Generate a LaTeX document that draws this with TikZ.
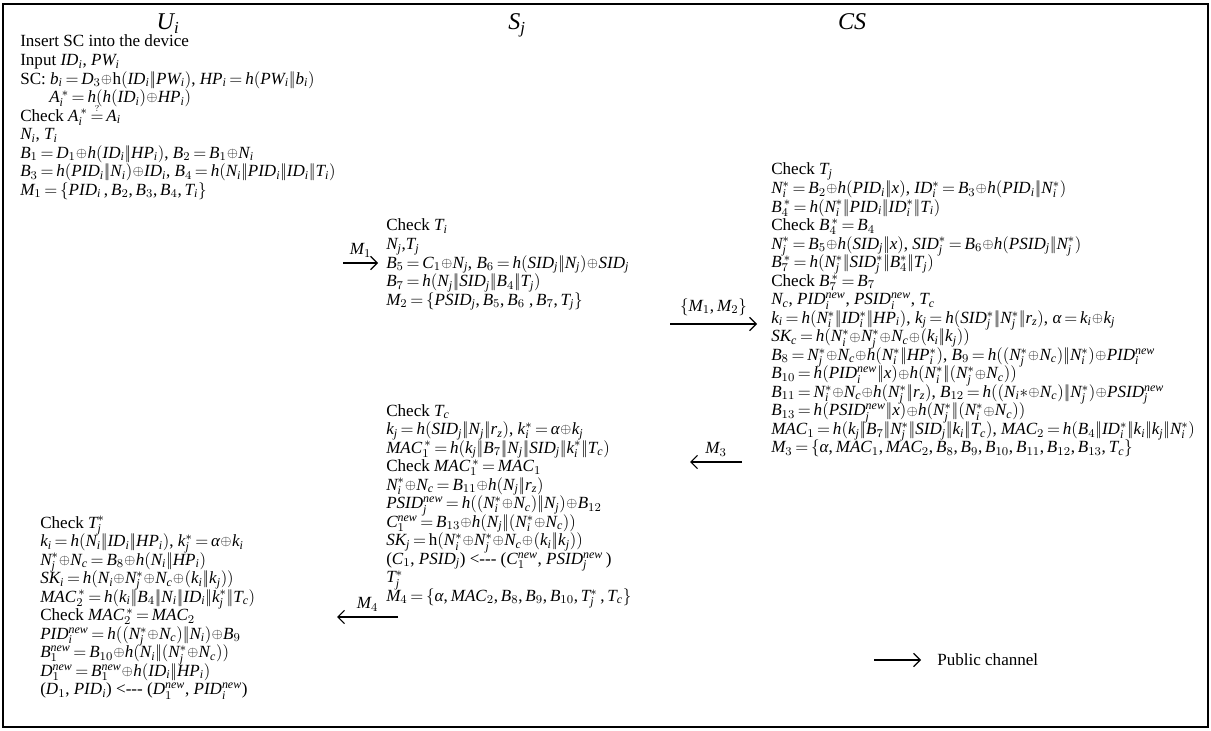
\documentclass[tikz,border=0pt]{standalone}
\usepackage{fix-cm}
\usepackage{amsmath}
\usepackage{graphicx}
\usepackage{fontspec}
\setmainfont{Liberation Serif}
\usetikzlibrary{arrows.meta}
\DeclareSymbolFont{tletters}{TU}{\rmdefault}{m}{it}
\DeclareSymbolFont{tupright}{TU}{\rmdefault}{m}{n}
\newcount\mycnt
\mycnt=`a
\loop\Umathcode\mycnt="7 \symtletters\mycnt\relax\ifnum\mycnt<`z \advance\mycnt by 1 \repeat
\mycnt=`A
\loop\Umathcode\mycnt="7 \symtletters\mycnt\relax\ifnum\mycnt<`Z \advance\mycnt by 1 \repeat
\mycnt=`0
\loop\Umathcode\mycnt="0 \symtupright\mycnt\relax\ifnum\mycnt<`9 \advance\mycnt by 1 \repeat
\Umathcode`\( = "4 \symtupright `\(\relax
\Umathcode`\) = "5 \symtupright `\)\relax
\Umathcode`\= = "3 \symtupright `\=\relax
\Umathcode`\, = "6 \symtupright `\,\relax
\Umathchardef\alpha="7 \symtletters "3B1\relax
\let\oldoplus\oplus
\renewcommand\oplus{\mathbin{\vcenter{\hbox{\scalebox{0.82}{$\oldoplus$}}}}}
\renewcommand\|{\mathord{\vert\mkern-3mu\vert}}
\newcommand\qeq{\mathrel{\overset{\scriptscriptstyle ?}{=}}}
\thickmuskip=3mu plus 2mu
\medmuskip=0.5mu plus 1mu
\newcommand\blk[1]{\vtop{\baselineskip=13.9pt\lineskiplimit=-100pt\lineskip=0pt\let\\\cr\halign{##\hfil\cr#1\crcr}}}
\begin{document}
\begin{tikzpicture}[x=0.75pt,y=-0.75pt,
  txt/.style={anchor=base west, inner sep=0pt, font=\fontsize{12.8}{13.9}\selectfont},
  head/.style={anchor=base, inner sep=0pt, font=\fontsize{18}{21}\selectfont},
  msg/.style={line width=0.9pt, -{Straight Barb[length=5pt,width=10pt,line width=0.9pt]}},
  lbl/.style={inner sep=0pt, font=\fontsize{12.8}{13.9}\selectfont}]
\useasboundingbox (0,0) rectangle (1211,731);
\draw[line width=1.5pt] (3,4) rectangle (1208,727);

\node[head] (hu) at (168,30) {$U_i$};
\node[head] (hs) at (517,30) {$S_j$};
\node[head] (hc) at (852,30) {$CS$};

\node[txt] (u1) at (20,47) {\blk{%
Insert SC into the device\\
Input $ID_i$, $PW_i$\\
SC: $b_i = D_3\oplus \text{h}(ID_i\|PW_i)$, $HP_i = h(PW_i\|b_i)$\\
\hspace*{1.7em}$A_i^{\,*} = h(h(ID_i)\oplus HP_i)$\\
Check $A_i^{\,*} \qeq A_i$\\
$N_i$, $T_i$\\
$B_1 = D_1\oplus h(ID_i\|HP_i)$, $B_2 = B_1\oplus N_i$\\
$B_3 = h(PID_i\|N_i)\oplus ID_i$, $B_4 = h(N_i\|PID_i\|ID_i\|T_i)$\\
$M_1 = \{PID_i\,, B_2, B_3, B_4, T_i\}$}};

\node[txt] (s1) at (386,231) {\blk{%
Check $T_i$\\
$N_j$,$T_j$\\
$B_5 = C_1\oplus N_j$, $B_6 = h(SID_j\|N_j)\oplus SID_j$\\
$B_7 = h(N_j\|SID_j\|B_4\|T_j)$\\
$M_2 = \{PSID_j, B_5, B_6\ , B_7, T_j\}$}};

\node[txt] (c1) at (771,175) {\blk{%
Check $T_j$\\
$N_i^* = B_2\oplus h(PID_i\|x)$, $ID_i^* = B_3\oplus h(PID_i\|N_i^*)$\\
$B_4^{\,*} = h(N_i^*\|PID_i\|ID_i^*\|T_i)$\\
Check $B_4^{\,*} = B_4$\\
$N_j^* = B_5\oplus h(SID_j\|x)$, $SID_j^* = B_6\oplus h(PSID_j\|N_j^*)$\\
$B_7^{\,*} = h(N_j^*\|SID_j^*\|B_4^*\|T_j)$\\
Check $B_7^{\,*} = B_7$\\
$N_c$, $PID_i^{new}$, $PSID_i^{new}$, $T_c$\\
$k_i = h(N_i^*\|ID_i^*\|HP_i)$, $k_j = h(SID_j^*\|N_j^*\|r_z)$, $\alpha = k_i\oplus k_j$\\
$SK_c = h(N_i^*\oplus N_j^*\oplus N_c\oplus (k_i\|k_j))$\\
$B_8 = N_j^*\oplus N_c\oplus h(N_i^*\|HP_i^*)$, $B_9 = h((N_j^*\oplus N_c)\|N_i^*)\oplus PID_i^{new}$\\
$B_{10} = h(PID_i^{new}\|x)\oplus h(N_i^*\|(N_j^*\oplus N_c))$\\
$B_{11} = N_i^*\oplus N_c\oplus h(N_j^*\|r_z)$, $B_{12} = h((N_i{\ast}\oplus N_c)\|N_j^*)\oplus PSID_j^{new}$\\
$B_{13} = h(PSID_j^{new}\|x)\oplus h(N_j^*\|(N_i^*\oplus N_c))$\\
$MAC_1 = h(k_j\|B_7\|N_j^*\|SID_j\|k_i\|T_c)$, $MAC_2 = h(B_4\|ID_i^*\|k_i\|k_j\|N_i^*)$\\
$M_3 = \{\alpha, MAC_1, MAC_2, B_8, B_9, B_{10}, B_{11}, B_{12}, B_{13}, T_c\}$}};

\node[txt] (s2) at (386,416) {\blk{%
Check $T_c$\\
$k_j = h(SID_j\|N_j\|r_z)$, $k_i^* = \alpha\oplus k_j$\\
$MAC_1^{\,*} = h(k_j\|B_7\|N_j\|SID_j\|k_i^*\|T_c)$\\
Check $MAC_1^{\,*} = MAC_1$\\
$N_i^*\oplus N_c = B_{11}\oplus h(N_j\|r_z)$\\
$PSID_j^{new} = h((N_i^*\oplus N_c)\|N_j)\oplus B_{12}$\\
$C_1^{new} = B_{13}\oplus h(N_j\|(N_i^*\oplus N_c))$\\
$SK_j = \text{h}(N_i^*\oplus N_j^*\oplus N_c\oplus (k_i\|k_j))$\\
($C_1$, $PSID_j$) <-{}-{}- ($C_1^{new}$, $PSID_j^{new}$\,)\\
$T_j^*$\\
$M_4 = \{\alpha, MAC_2, B_8, B_9, B_{10}, T_j^*\,, T_c\}$}};

\node[txt] (u2) at (40,528) {\blk{%
Check $T_j^*$\\
$k_i = h(N_i\|ID_i\|HP_i)$, $k_j^* = \alpha\oplus k_i$\\
$N_j^*\oplus N_c = B_8\oplus h(N_i\|HP_i)$\\
$SK_i = h(N_i\oplus N_j^*\oplus N_c\oplus (k_i\|k_j))$\\
$MAC_2^{\,*} = h(k_i\|B_4\|N_i\|ID_i\|k_j^*\|T_c)$\\
Check $MAC_2^{\,*} = MAC_2$\\
$PID_i^{new} = h((N_j^*\oplus N_c)\|N_i)\oplus B_9$\\
$B_1^{new} = B_{10}\oplus h(N_i\|(N_j^*\oplus N_c))$\\
$D_1^{new} = B_1^{new}\oplus h(ID_i\|HP_i)$\\
($D_1$, $PID_i$) <-{}-{}- ($D_1^{new}$, $PID_i^{new}$)}};

\coordinate (m1a) at (343,263);
\coordinate (m1b) at (378,263);
\draw[msg] (m1a) -- node[lbl, above=4pt] (m1l) {$M_1$} (m1b);

\coordinate (m2a) at (670,324);
\coordinate (m2b) at (757,324);
\draw[msg] (m2a) -- node[lbl, above=6pt] (m2l) {$\{M_1, M_2\}$} (m2b);

\coordinate (m3a) at (742,462);
\coordinate (m3b) at (690,462);
\draw[msg] (m3a) -- node[lbl, above=4pt] (m3l) {$M_3$} (m3b);

\coordinate (m4a) at (398,617);
\coordinate (m4b) at (337,617);
\draw[msg] (m4a) -- node[lbl, above=4pt] (m4l) {$M_4$} (m4b);

\coordinate (pa) at (874,660);
\coordinate (pb) at (921,660);
\draw[msg] (pa) -- (pb);
\node[lbl, anchor=base west] (pl) at (937,665) {Public channel};
\end{tikzpicture}
\end{document}
